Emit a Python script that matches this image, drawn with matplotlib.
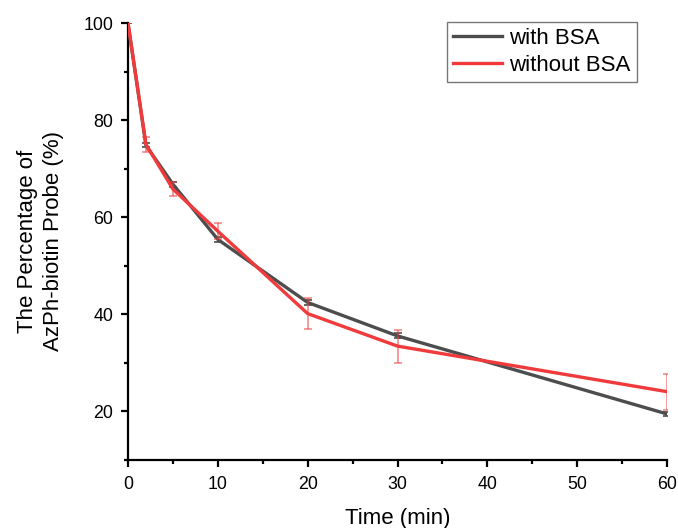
import matplotlib
matplotlib.use("Agg")
import matplotlib.pyplot as plt
from matplotlib.ticker import MultipleLocator
from matplotlib.lines import Line2D

plt.rcParams['font.family'] = ['Liberation Sans', 'DejaVu Sans']

time_min = [0, 2, 5, 10, 20, 30, 60]
with_bsa = [100, 74.8, 66.8, 55.4, 42.4, 35.5, 19.4]
with_bsa_err = [0, 0.4, 0.5, 0.5, 0.6, 0.5, 0.5]
without_bsa = [100, 75.0, 65.8, 57.1, 40.1, 33.4, 24.0]
without_bsa_err = [0, 1.5, 1.5, 1.7, 3.2, 3.4, 3.7]

gray = '#4D4D4D'
red = '#F03A3C'

fig = plt.figure(figsize=(6.78, 5.28), dpi=100)
ax = fig.add_axes([0.1888, 0.1297, 0.9838 - 0.1888, 0.9559 - 0.1297])

ax.errorbar(time_min, with_bsa, yerr=with_bsa_err, color=gray, lw=2.4,
            elinewidth=1.2, capsize=3, capthick=1.2, zorder=3)
eb = ax.errorbar(time_min, without_bsa, yerr=without_bsa_err, color=red, lw=2.4,
                 elinewidth=1.2, capsize=3, capthick=1.2, zorder=4)
for part in eb[1]:
    part.set_alpha(0.6)
for part in eb[2]:
    part.set_alpha(0.6)

ax.set_xlim(0, 60)
ax.set_ylim(10, 100)
ax.xaxis.set_major_locator(MultipleLocator(10))
ax.xaxis.set_minor_locator(MultipleLocator(5))
ax.yaxis.set_major_locator(MultipleLocator(20))
ax.yaxis.set_minor_locator(MultipleLocator(10))
ax.set_yticks([20, 40, 60, 80, 100])

for s in ['top', 'right']:
    ax.spines[s].set_visible(False)
for s in ['left', 'bottom']:
    ax.spines[s].set_linewidth(1.6)

ax.tick_params(which='major', direction='out', length=5, width=1.6, labelsize=12.8)
ax.tick_params(which='minor', direction='out', length=3, width=1.6)
ax.tick_params(axis='x', which='major', pad=7)
ax.tick_params(axis='y', which='major', pad=5.5)

ax.set_xlabel('Time (min)', fontsize=16, labelpad=11)
ax.set_ylabel('The Percentage of\nAzPh-biotin Probe (%)', fontsize=16, labelpad=14,
              linespacing=1.35)

handles = [Line2D([], [], color=gray, lw=2.4), Line2D([], [], color=red, lw=2.4)]
leg = ax.legend(handles, ['with BSA', 'without BSA'], loc='upper right',
                bbox_to_anchor=(0.9445, 1.003), fontsize=16,
                frameon=True, fancybox=False, edgecolor='#555555',
                handlelength=2.2, handletextpad=0.35, borderpad=0.28,
                labelspacing=0.25, borderaxespad=0)
leg.get_frame().set_linewidth(1.0)

fig.savefig('out.png', dpi=100)
